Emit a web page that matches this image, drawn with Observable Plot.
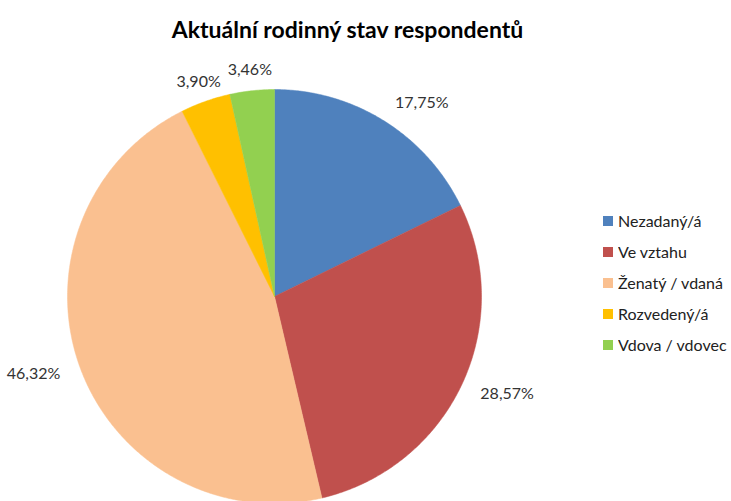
<!DOCTYPE html>
<html>
<head>
<meta charset="utf-8">
<script src="https://cdn.jsdelivr.net/npm/d3@7"></script>
<script src="https://cdn.jsdelivr.net/npm/@observablehq/plot@0.6"></script>
<style>
  body { margin: 0; background: #fff; }
  #wrap { position: relative; width: 731px; height: 501px; overflow: hidden; font-family: Lato, sans-serif; }
  #title { position: absolute; left: 0; top: 14px; width: 695px; text-align: center; font-size: 23px; line-height: 30px; font-weight: bold; color: #000; }
  #chart { position: absolute; left: 0; top: 50px; }
  #legend { position: absolute; left: 603px; top: 205px; }
  .lg-swatches { font-family: Lato, sans-serif !important; font-size: 16px !important; color: #222 !important; margin: 0 !important; }
  .lg-swatch { height: 31px; padding-bottom: 0 !important; display: flex; align-items: center; }
  .lg-swatch svg { margin-right: 5px !important; }
</style>
</head>
<body>
<div id="wrap">
  <div id="title">Aktuální rodinný stav respondentů</div>
  <div id="chart"></div>
  <div id="legend"></div>
</div>
<script>
const categories = ["Nezadaný/á", "Ve vztahu", "Ženatý / vdaná", "Rozvedený/á", "Vdova / vdovec"];
const values = [17.75, 28.57, 46.32, 3.90, 3.46];
const labels = ["17,75%", "28,57%", "46,32%", "3,90%", "3,46%"];
const colors = ["#4F81BD", "#C0504D", "#FAC090", "#FFC000", "#92D050"];

const W = 731, H = 451;
const cx = 274, cy = 246, R = 207;

const arcs = d3.pie().sort(null).value(d => d)(values);
const pts = [];
arcs.forEach((a, i) => {
  const cat = categories[i];
  pts.push({cat, x: 0, y: 0});
  const n = Math.max(2, Math.ceil((a.endAngle - a.startAngle) / (Math.PI / 360)));
  for (let k = 0; k <= n; k++) {
    const t = a.startAngle + (a.endAngle - a.startAngle) * k / n;
    pts.push({cat, x: Math.sin(t), y: Math.cos(t)});
  }
  pts.push({cat, x: 0, y: 0});
});
// Label placement: outside the slice, anchored away from the pie
const lab = arcs.map((a, i) => {
  const m = (a.startAngle + a.endAngle) / 2;
  const s = Math.sin(m);
  const anchor = Math.abs(s) < 0.5 ? "middle" : (s > 0 ? "start" : "end");
  const f = 1.1;
  return {x: f * Math.sin(m), y: f * Math.cos(m), text: labels[i], anchor};
});

const textMarks = ["start", "middle", "end"].map(anc =>
  Plot.text(lab.filter(d => d.anchor === anc), {x: "x", y: "y", text: "text", fontSize: 16, fill: "#333", textAnchor: anc})
);

const chart = Plot.plot({
  width: W, height: H, margin: 0,
  style: {fontFamily: "Lato, sans-serif", background: "transparent"},
  x: {domain: [-cx / R, (W - cx) / R], axis: null},
  y: {domain: [-(H - cy) / R, cy / R], axis: null},
  color: {domain: categories, range: colors},
  marks: [
    Plot.line(pts, {x: "x", y: "y", z: "cat", fill: "cat", stroke: "cat", strokeWidth: 0.5, curve: "linear"}),
    ...textMarks
  ]
});
document.getElementById("chart").appendChild(chart);

const leg = Plot.legend({
  color: {domain: categories, range: colors},
  legend: "swatches", columns: 1, swatchSize: 10, className: "lg"
});
document.getElementById("legend").appendChild(leg);
</script>
</body>
</html>
